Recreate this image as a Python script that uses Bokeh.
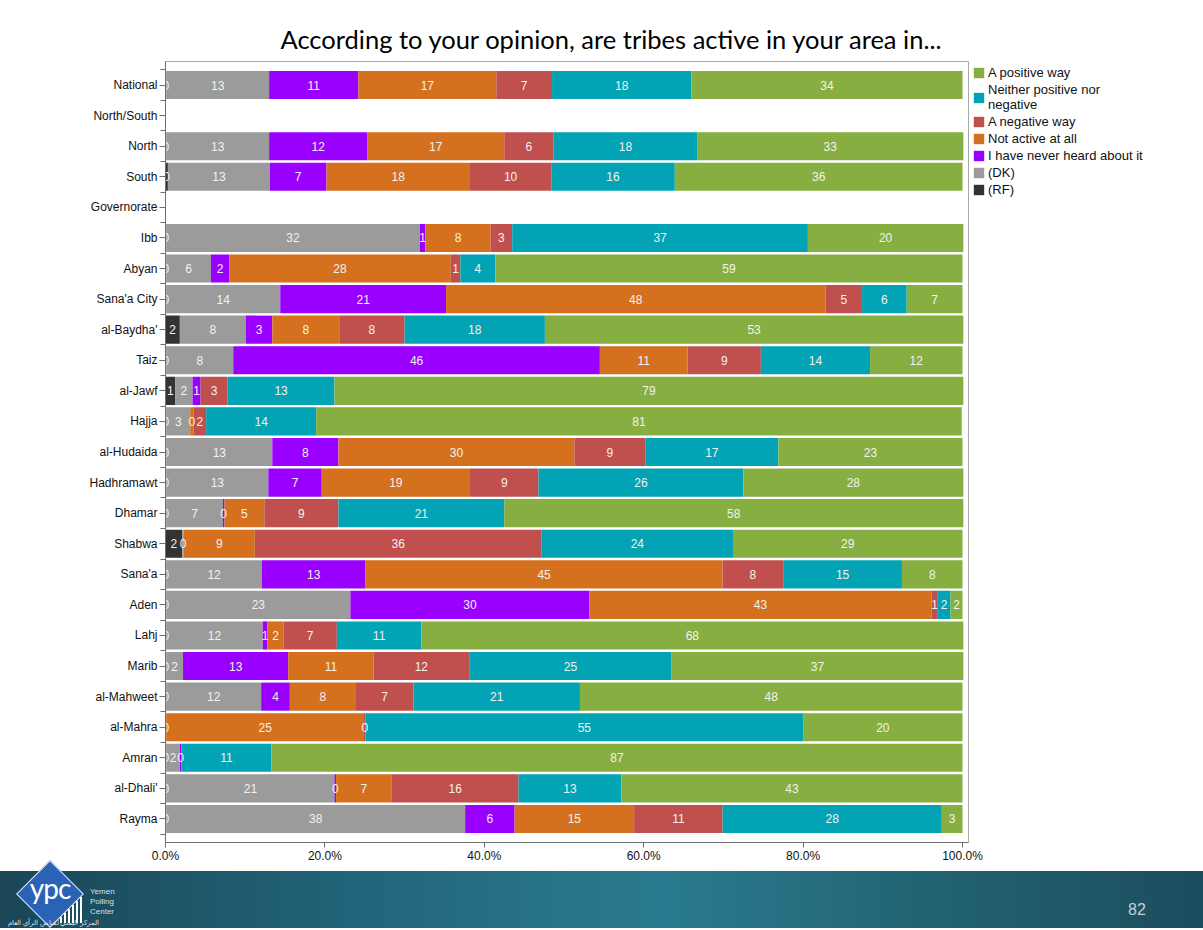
from bokeh.plotting import figure
from bokeh.models import (ColumnDataSource, Range1d, FixedTicker, PrintfTickFormatter,
                          Legend, LegendItem, Div)
from bokeh.layouts import column
from bokeh.embed import file_html
from bokeh.resources import INLINE
from bokeh.core.properties import value

# ---------------- data ----------------
categories = ["National", "North/South", "North", "South", "Governorate", "Ibb", "Abyan",
              "Sana'a City", "al-Baydha'", "Taiz", "al-Jawf", "Hajja", "al-Hudaida",
              "Hadhramawt", "Dhamar", "Shabwa", "Sana'a", "Aden", "Lahj", "Marib",
              "al-Mahweet", "al-Mahra", "Amran", "al-Dhali'", "Rayma"]

rf = [0.1, 0, 0.1, 0.3, 0, 0.1, 0.1, 0.1, 1.8, 0.1, 1.2, 0.1, 0.1,
      0.1, 0.1, 2.1, 0.1, 0.1, 0.1, 0.1, 0.1, 0.1, 0.1, 0.1, 0.1]
dk = [12.9, 0, 12.9, 12.8, 0, 31.8, 5.6, 14.3, 8.3, 8.4, 2.2, 3.0, 13.3,
      12.8, 7.1, 0.2, 12.0, 23.1, 12.1, 2.1, 11.9, 0, 1.7, 21.1, 37.5]
never_heard = [11.2, 0, 12.3, 7.1, 0, 0.7, 2.3, 20.8, 3.3, 46.0, 1.0, 0, 8.3,
               6.7, 0.2, 0, 13.0, 30.0, 0.6, 13.2, 3.6, 0, 0.2, 0.2, 6.2]
not_active = [17.3, 0, 17.2, 18.0, 0, 8.2, 27.8, 47.6, 8.4, 11.0, 0, 0.4, 29.6,
              18.6, 5.0, 8.9, 44.8, 42.9, 2.0, 10.7, 8.3, 24.8, 0, 7.0, 15.0]
negative = [7.0, 0, 6.2, 10.2, 0, 2.7, 1.2, 4.6, 8.2, 9.2, 3.4, 1.6, 8.9,
            8.6, 9.3, 36.0, 7.6, 0.8, 6.7, 12.0, 7.2, 0.2, 0, 15.9, 11.1]
neither = [17.5, 0, 18.0, 15.5, 0, 37.1, 4.4, 5.6, 17.6, 13.7, 13.4, 13.8, 16.7,
           25.7, 20.8, 24.0, 14.9, 1.6, 10.6, 25.4, 20.9, 54.9, 11.3, 12.9, 27.5]
positive = [34.0, 0, 33.4, 36.1, 0, 19.5, 58.6, 7.0, 52.5, 11.6, 78.9, 81.0, 23.1,
            27.6, 57.6, 28.8, 7.6, 1.5, 68.0, 36.6, 48.0, 20.0, 86.7, 42.8, 2.6]

series_keys = ["rf", "dk", "never", "notactive", "negative", "neither", "positive"]
series_values = [rf, dk, never_heard, not_active, negative, neither, positive]
series_names = ["(RF)", "(DK)", "I have never heard about it", "Not active at all",
                "A negative way", "Neither positive nor\nnegative", "A positive way"]
colors = ["#333333", "#9b9b9b", "#9900ff", "#d5701f", "#c0504d", "#02a3b4", "#87ae41"]

x_ticks = [0, 20, 40, 60, 80, 100]

title_text = "According to your opinion, are tribes active in your area in..."
page_number = "82"

# ---------------- main figure ----------------
n = len(categories)
ypos = list(range(n))

src = ColumnDataSource(data=dict(y=ypos, **{k: v for k, v in zip(series_keys, series_values)}))

p = figure(frame_width=803, frame_height=781, output_backend="svg", toolbar_location=None,
           x_range=Range1d(0, 100.75), y_range=Range1d(n - 0.5 + 0.27, -0.5 - 0.27),
           min_border_left=165, min_border_right=227, min_border_top=61,
           min_border_bottom=29)

renderers = p.hbar_stack(series_keys, y="y", height=0.92, color=colors, source=src,
                         line_color=None)

# segment labels (centre of each stacked segment)
lx, ly, lt = [], [], []
cum = [0.0] * n
for vals in series_values:
    for i, v in enumerate(vals):
        if v > 0:
            lx.append(cum[i] + v / 2.0)
            ly.append(i)
            lt.append(str(int(v + 0.5)))
        cum[i] += v
lsrc = ColumnDataSource(data=dict(x=lx, y=ly, t=lt))
p.text(x="x", y="y", text="t", source=lsrc, text_color="#f2f2f2",
       text_font=value("Liberation Sans"), text_font_size="12px",
       text_align="center", text_baseline="middle")

# axes
p.xgrid.visible = False
p.ygrid.visible = False
p.outline_line_color = "#a8a8a8"

p.yaxis.ticker = FixedTicker(ticks=ypos, minor_ticks=[i - 0.5 for i in range(n + 1)])
p.yaxis.major_label_overrides = {i: c for i, c in enumerate(categories)}
p.yaxis.major_label_text_font = "Liberation Sans"
p.yaxis.major_label_text_font_size = "12px"
p.yaxis.major_label_text_color = "#111111"
p.yaxis.major_label_standoff = 2
p.yaxis.major_tick_out = 6
p.yaxis.major_tick_in = 0
p.yaxis.minor_tick_out = 5
p.yaxis.minor_tick_in = 0
p.yaxis.axis_line_color = "#6e6e6e"
p.yaxis.major_tick_line_color = "#6e6e6e"
p.yaxis.minor_tick_line_color = "#6e6e6e"

p.xaxis.ticker = FixedTicker(ticks=x_ticks)
p.xaxis.formatter = PrintfTickFormatter(format="%.1f%%")
p.xaxis.major_label_text_font = "Liberation Sans"
p.xaxis.major_label_text_font_size = "12px"
p.xaxis.major_label_text_color = "#111111"
p.xaxis.major_label_standoff = 1
p.xaxis.major_tick_out = 5
p.xaxis.major_tick_in = 0
p.xaxis.minor_tick_line_color = None
p.xaxis.axis_line_color = "#6e6e6e"
p.xaxis.major_tick_line_color = "#6e6e6e"

# title
p.title.text = title_text
p.title.align = "left"
p.title.text_font = "Lato"
p.title.text_font_size = "25.5px"
p.title.text_font_style = "normal"
p.title.text_color = "#000000"
p.title.offset = 115
p.title.standoff = 16

# legend
items = [LegendItem(label=series_names[i], renderers=[renderers[i]])
         for i in reversed(range(len(series_names)))]
legend = Legend(items=items, location="top_left", margin=4, padding=4,
                border_line_color=None, background_fill_alpha=0,
                glyph_width=13, glyph_height=13, label_height=13,
                label_standoff=3, spacing=2,
                label_text_font="Liberation Sans", label_text_font_size="13px",
                label_text_line_height=1.1, label_text_color="#111111")
p.add_layout(legend, "right")

# ---------------- footer band (decoration) ----------------
bars_html = "".join(
    f'<div style="position:absolute;left:{60 + 4 * k}px;top:{52 - 6 - 4 * k}px;width:2px;'
    f'height:{6 + 4 * k}px;background:#ffffff;"></div>' for k in range(6))
footer_html = f"""
<div style="position:relative;width:1203px;height:57px;">
  <div style="position:absolute;left:0;top:0;width:1203px;height:57px;
       background:linear-gradient(90deg,#1a4656 0%,#22657a 30%,#2a7b8f 55%,#21606f 80%,#1c4d5e 100%);"></div>
  <div style="position:absolute;left:26px;top:-1px;width:48px;height:48px;background:#2a63b6;
       border:1px solid #dfe8f5;transform:rotate(45deg);transform-origin:50% 50%;"></div>
  <div style="position:absolute;left:20px;top:0px;width:60px;text-align:center;color:#ffffff;
       font:28px 'Lato';letter-spacing:-1px;">ypc</div>
  {bars_html}
  <div style="position:absolute;left:90px;top:16px;color:#d6e2e8;font:8px 'Liberation Sans';line-height:10px;">
       Yemen<br>Polling<br>Center</div>
  <div style="position:absolute;left:8px;top:47px;color:#d6e2e8;font:7px 'Noto Sans';">المركز اليمني لقياس الرأي العام</div>
  <div style="position:absolute;left:1128px;top:30px;color:#c3d0d6;font:16px 'Liberation Sans';">{page_number}</div>
</div>
"""
footer = Div(text=footer_html, width=1203, height=57, margin=0)

layout = column(p, footer, spacing=0)
open("out.html", "w").write(file_html(layout, INLINE))
